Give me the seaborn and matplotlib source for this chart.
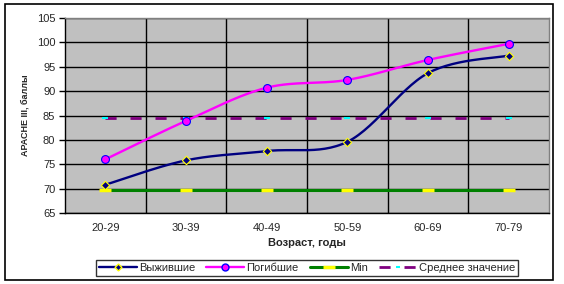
import numpy as np
import pandas as pd
import matplotlib
matplotlib.use("Agg")
import matplotlib.pyplot as plt
import seaborn as sns
from matplotlib.lines import Line2D
from matplotlib.patches import Rectangle

categories = ["20-29", "30-39", "40-49", "50-59", "60-69", "70-79"]
survived = [70.8, 75.8, 77.7, 79.6, 93.7, 97.3]
died = [76.0, 83.9, 90.7, 92.3, 96.4, 99.7]
min_vals = [69.7, 69.7, 69.7, 69.7, 69.7, 69.7]
mean_vals = [84.4, 84.4, 84.4, 84.4, 84.4, 84.4]
yticks = [65, 70, 75, 80, 85, 90, 95, 100, 105]

sns.set_theme(style="white")
plt.rcParams['font.family'] = ['Liberation Sans', 'DejaVu Sans']

fig = plt.figure(figsize=(5.64, 2.84), dpi=100)
fig.patch.set_facecolor("white")
ax = fig.add_axes([65/564, 1-213/284, (549-65)/564, (213-18)/284])
ax.set_facecolor("#C0C0C0")

xpos = np.arange(len(categories)) + 0.5


def smooth(x, y, n=30):
    x = np.asarray(x, float); y = np.asarray(y, float)
    P = np.column_stack([x, y])
    Pext = np.vstack([P[0], P, P[-1]])
    out = []
    for i in range(len(P) - 1):
        p0, p1, p2, p3 = Pext[i], Pext[i+1], Pext[i+2], Pext[i+3]
        c1 = p1 + (p2 - p0) / 6.0
        c2 = p2 - (p3 - p1) / 6.0
        t = np.linspace(0, 1, n)[:, None]
        seg = ((1-t)**3) * p1 + 3*((1-t)**2)*t*c1 + 3*(1-t)*t**2*c2 + t**3*p2
        out.append(seg if i == 0 else seg[1:])
    s = np.vstack(out)
    return s[:, 0], s[:, 1]

# grid
for yv in yticks:
    ax.axhline(yv, color="black", lw=1.0, zorder=1)
for xv in range(1, len(categories)):
    ax.axvline(xv, color="black", lw=1.0, zorder=1)

# Min line
df_min = pd.DataFrame({"x": xpos, "y": min_vals})
sns.lineplot(data=df_min, x="x", y="y", ax=ax, color="#008000", lw=2.2, zorder=3)
sns.scatterplot(data=df_min, x="x", y="y", ax=ax, marker="_", s=80, color="#FFFF00",
                linewidth=2.5, zorder=4)

# Mean line
df_mean = pd.DataFrame({"x": xpos, "y": mean_vals})
sns.lineplot(data=df_mean, x="x", y="y", ax=ax, color="#800080", lw=2.0,
             dashes=False, zorder=3)
ax.lines[-1].set_dashes([4, 5])
sns.scatterplot(data=df_mean, x="x", y="y", ax=ax, marker="_", s=15, color="#00FFFF",
                linewidth=1.5, zorder=4)

# Died
sx, sy = smooth(xpos, died)
sns.lineplot(x=sx, y=sy, ax=ax, color="#FF00FF", lw=1.7, sort=False, zorder=5)
sns.scatterplot(x=xpos, y=died, ax=ax, marker="o", s=32, color="#FF00FF",
                edgecolor="#0000FF", linewidth=0.8, zorder=6)

# Survived
sx, sy = smooth(xpos, survived)
sns.lineplot(x=sx, y=sy, ax=ax, color="#000080", lw=1.7, sort=False, zorder=5)
sns.scatterplot(x=xpos, y=survived, ax=ax, marker="D", s=18, color="#000080",
                edgecolor="#FFFF00", linewidth=0.8, zorder=6)

ax.set_xlim(0, len(categories))
ax.set_ylim(65, 105)
ax.set_yticks(yticks)
ax.set_yticklabels([str(v) for v in yticks], fontsize=8)
ax.set_xticks(xpos)
ax.set_xticklabels(categories, fontsize=8)
ax.set_xticks(np.arange(0, len(categories)+1), minor=True)
ax.tick_params(axis="x", which="major", length=0, pad=7)
ax.tick_params(axis="x", which="minor", length=4, width=1, color="black", direction="out")
ax.tick_params(axis="y", which="major", length=4, width=1, color="black", direction="out", pad=3, left=True)
ax.set_xlabel("")
ax.set_ylabel("")
for side in ["left", "bottom"]:
    ax.spines[side].set_color("black")
    ax.spines[side].set_linewidth(1)
for side in ["top", "right"]:
    ax.spines[side].set_color("#808080")
    ax.spines[side].set_linewidth(1)

fig.text(25/564, 1-115/284, "АРАСНЕ III, баллы", rotation=90, fontsize=6.5,
         fontweight="bold", ha="center", va="center")
fig.text(307/564, 1-243/284, "Возраст, годы", fontsize=8, fontweight="bold",
         ha="center", va="center")

handles = [
    Line2D([], [], color="#000080", lw=1.7, marker="D", markersize=3.5,
           markerfacecolor="#000080", markeredgecolor="#FFFF00"),
    Line2D([], [], color="#FF00FF", lw=1.7, marker="o", markersize=5,
           markerfacecolor="#FF00FF", markeredgecolor="#0000FF"),
    Line2D([], [], color="#008000", lw=2.2, marker="_", markersize=9,
           markeredgecolor="#FFFF00", markeredgewidth=2.5),
    Line2D([], [], color="#800080", lw=2.0, dashes=[4, 5], marker="_", markersize=3,
           markeredgecolor="#00FFFF", markeredgewidth=1.5),
]
labels = ["Выжившие", "Погибшие", "Min", "Среднее значение"]
leg = fig.legend(handles, labels, loc="center", bbox_to_anchor=(307/564, 1-268/284),
                 ncol=4, fontsize=8, frameon=True, fancybox=False, edgecolor="black",
                 handlelength=3.4, handletextpad=0.2, columnspacing=1.0,
                 borderpad=0.25, borderaxespad=0)
leg.get_frame().set_linewidth(1)

fig.patches.append(Rectangle((5/564, 1-280/284), 548/564, 276/284, transform=fig.transFigure,
                             fill=False, edgecolor="black", lw=1.2))

fig.savefig("out.png", dpi=100)
